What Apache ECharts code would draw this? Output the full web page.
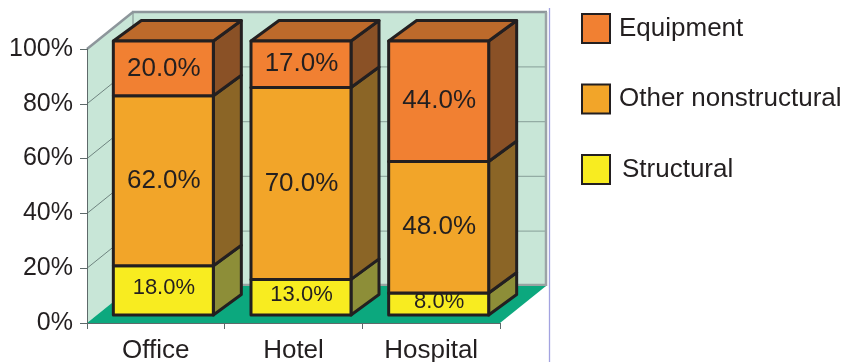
<!DOCTYPE html>
<html>
<head>
<meta charset="utf-8">
<style>html,body{margin:0;padding:0;background:#fff}#chart{width:841px;height:362px}</style>
<script src="https://cdn.jsdelivr.net/npm/echarts@6/dist/echarts.min.js"></script>
</head>
<body>
<div id="chart"></div>
<script>
const categories = ['Office', 'Hotel', 'Hospital'];
const structural = [18, 13, 8];
const otherNonstructural = [62, 70, 48];
const equipment = [20, 17, 44];
const percentTicks = [0, 20, 40, 60, 80, 100];

// Pseudo-3D projection, in pixels
const WALL_DX = 46, WALL_DY = 37;   // depth of the chart box
const BAR_DX = 28, BAR_DY = 20.5;   // depth of each column
const BAR_SHIFT_X = 7.5, BAR_SHIFT_Y = 8; // columns stand inside the floor
const BAR_WIDTH = 100;

const INK = '#231f20';
const AXIS_GREY = '#5e6a6a';
const FONT = '"Liberation Sans", Arial, sans-serif';

function stackOf(values, below) {
  return values.map((v, i) => {
    const base = below.reduce((s, arr) => s + arr[i], 0);
    return [i, base, base + v, v];
  });
}

function wallsRenderer(params, api) {
  const cs = params.coordSys;
  const x0 = cs.x, x1 = cs.x + cs.width;
  const yBottom = cs.y + cs.height, yTop = cs.y;
  const poly = (points, style) => ({ type: 'polygon', shape: { points }, style });
  const seg = (a, b, stroke, lineWidth) => ({
    type: 'line', shape: { x1: a[0], y1: a[1], x2: b[0], y2: b[1] },
    style: { stroke, lineWidth }
  });
  const backLeft = x0 + WALL_DX, backRight = x1 + WALL_DX;
  const backTop = yTop - WALL_DY, backBottom = yBottom - WALL_DY;
  const children = [
    poly([[x0, yBottom], [x0, yTop], [backLeft, backTop], [backLeft, backBottom]], { fill: '#c8e6d7' }),
    poly([[backLeft, backTop], [backRight, backTop], [backRight, backBottom], [backLeft, backBottom]], { fill: '#c8e6d7' }),
    seg([backLeft, backBottom - 1], [backRight, backBottom - 1], '#98a4a2', 2.5),
    poly([[x0, yBottom], [x1, yBottom], [backRight, backBottom], [backLeft, backBottom]], { fill: '#0ca87e' })
  ];
  percentTicks.slice(1, -1).forEach(t => {
    const y = api.coord([0, t])[1];
    children.push(seg([x0, y], [backLeft, y - WALL_DY], '#6f8480', 1));
    children.push(seg([backLeft, y - WALL_DY], [backRight, y - WALL_DY], '#93aca4', 1.3));
  });
  children.push(seg([backLeft, backTop], [backLeft, backBottom], '#7f8c8c', 1));
  children.push(seg([x0, yTop], [backLeft, backTop], '#8d969b', 2.5));
  children.push(seg([backLeft - 1, backTop], [backRight + 1, backTop], '#8d969b', 2.5));
  children.push(seg([backRight, backTop], [backRight, backBottom], '#9aa3a6', 2.5));
  // Thin rule that closes the plot on its right-hand side
  children.push(seg([backRight + 3.5, 8], [backRight + 3.5, 362], '#a3a3e0', 1.3));
  return { type: 'group', children };
}

function segmentRenderer(look) {
  return function (params, api) {
    const cat = api.value(0);
    const low = api.coord([cat, api.value(1)]);
    const high = api.coord([cat, api.value(2)]);
    const left = low[0] + BAR_SHIFT_X - BAR_WIDTH / 2;
    const right = left + BAR_WIDTH;
    const bottom = low[1] - BAR_SHIFT_Y;
    const top = high[1] - BAR_SHIFT_Y;
    const edge = { stroke: INK, lineWidth: 3, lineJoin: 'round' };
    const children = [
      { type: 'polygon', shape: { points: [[right, bottom], [right + BAR_DX, bottom - BAR_DY], [right + BAR_DX, top - BAR_DY], [right, top]] },
        style: Object.assign({ fill: look.side }, edge) }
    ];
    if (look.cap) {
      children.push({ type: 'polygon', shape: { points: [[left, top], [left + BAR_DX, top - BAR_DY], [right + BAR_DX, top - BAR_DY], [right, top]] },
        style: Object.assign({ fill: look.cap }, edge) });
    }
    children.push({ type: 'rect', shape: { x: left, y: top, width: BAR_WIDTH, height: bottom - top },
      style: Object.assign({ fill: look.front }, edge) });
    children.push({ type: 'text', z2: 10, style: {
      text: api.value(3).toFixed(1) + '%',
      x: (left + right) / 2 + 0.5, y: (top + bottom) / 2 + look.labelDy,
      align: 'center', verticalAlign: 'middle',
      font: look.labelSize + 'px ' + FONT, fill: INK } });
    return { type: 'group', children };
  };
}

function stackSeries(name, data, look) {
  return {
    name, type: 'custom', data, z: look.z, silent: true,
    encode: { x: 0, y: [1, 2] },
    itemStyle: { color: look.front, borderColor: INK, borderWidth: 2.5 },
    renderItem: segmentRenderer(look)
  };
}

const chart = echarts.init(document.getElementById('chart'), null, { renderer: 'canvas' });
chart.setOption({
  animation: false,
  backgroundColor: '#fff',
  grid: { left: 87, top: 49, width: 413, height: 274, containLabel: false, outerBoundsMode: 'none' },
  legend: {
    orient: 'vertical', left: 581, top: 13, padding: 0, itemWidth: 28, itemHeight: 29, itemGap: 39.5,
    icon: 'rect', selectedMode: false,
    textStyle: { fontFamily: FONT, fontSize: 26, color: INK, padding: [0, 0, 0, 4] },
    data: [
      { name: 'Equipment' },
      { name: 'Other nonstructural' },
      { name: 'Structural', textStyle: { padding: [0, 0, 0, 7] } }
    ]
  },
  xAxis: {
    type: 'category', data: categories, z: 5,
    axisLine: { show: true, lineStyle: { color: AXIS_GREY, width: 1 } },
    axisTick: { show: true, alignWithLabel: false, length: 6, lineStyle: { color: AXIS_GREY, width: 1 } },
    axisLabel: { fontFamily: FONT, fontSize: 26, color: INK, margin: 15 }
  },
  yAxis: {
    type: 'value', min: 0, max: 100, interval: 20, z: 5,
    splitLine: { show: false },
    axisLine: { show: true, lineStyle: { color: AXIS_GREY, width: 1 } },
    axisTick: { show: true, length: 7, lineStyle: { color: AXIS_GREY, width: 1 } },
    axisLabel: { fontFamily: FONT, fontSize: 25, color: INK, margin: 14, formatter: '{value}%' }
  },
  series: [
    { name: 'walls', type: 'custom', z: -1, silent: true, data: [[0, 0]], encode: { x: 0, y: 1 }, renderItem: wallsRenderer },
    stackSeries('Structural', stackOf(structural, []),
      { front: '#f8ec20', side: '#8d8e38', labelSize: 22, labelDy: -2.5, z: 2 }),
    stackSeries('Other nonstructural', stackOf(otherNonstructural, [structural]),
      { front: '#f2a529', side: '#8b6526', labelSize: 26, labelDy: 0, z: 3 }),
    stackSeries('Equipment', stackOf(equipment, [structural, otherNonstructural]),
      { front: '#f18032', side: '#8a5126', cap: '#bd6a2b', labelSize: 26, labelDy: 0, z: 4 })
  ]
});
</script>
</body>
</html>
